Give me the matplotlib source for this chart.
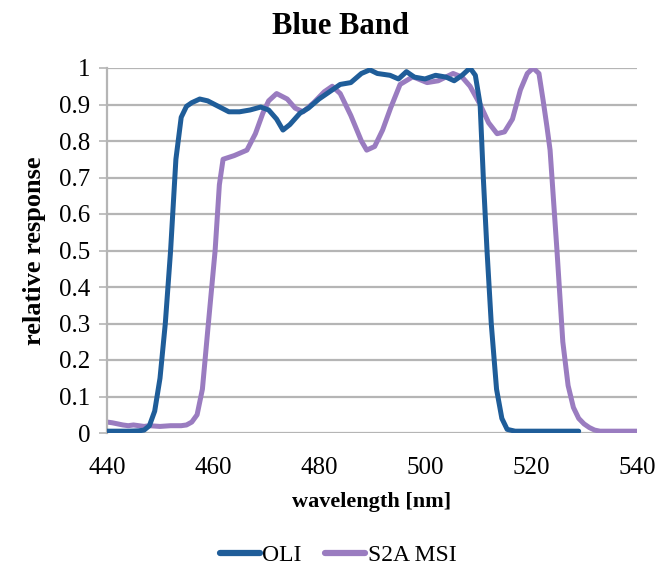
import matplotlib
matplotlib.use('Agg')
import matplotlib.pyplot as plt

# OLI blue band relative spectral response
oli_wl = [440, 442, 444, 446, 447, 448, 449, 450, 451, 452, 453, 454, 455, 456, 457.5,
          459, 461, 463, 465, 467, 469, 470.5, 472, 473.2, 474.5, 476.4, 478, 480, 482,
          484, 486, 488, 489.6, 491, 493.4, 495, 496.5, 498, 500, 502, 504, 505.5, 507,
          508.5, 509.5, 510.4, 511, 511.7, 512.5, 513.5, 514.5, 515.5, 517, 520, 524, 529]
oli_resp = [0.005, 0.005, 0.005, 0.006, 0.008, 0.02, 0.06, 0.15, 0.3, 0.5, 0.75, 0.865, 0.895, 0.905, 0.915,
            0.91, 0.895, 0.88, 0.88, 0.885, 0.893, 0.885, 0.86, 0.83, 0.845, 0.876, 0.89, 0.915, 0.935,
            0.955, 0.96, 0.985, 0.995, 0.985, 0.98, 0.97, 0.99, 0.975, 0.97, 0.98, 0.975, 0.965, 0.98,
            1.0, 0.98, 0.9, 0.7, 0.5, 0.3, 0.12, 0.04, 0.01, 0.005, 0.005, 0.005, 0.005]

# Sentinel-2A MSI band 2
msi_wl = [440, 441, 442, 443, 444, 445, 446, 447, 448, 450, 452, 454, 455, 456, 457, 458,
          459, 460.4, 461.2, 461.9, 464, 466.4, 468, 469.4, 470.5, 472, 474, 475.5, 477, 479,
          481, 482.5, 484, 486, 488, 489, 490.5, 492, 493.5, 495.3, 497.7, 500.4, 502.5,
          505.3, 507, 508.5, 510.4, 512, 513.6, 515, 516.5, 518, 519.3, 520.4, 521.5, 522.3,
          523, 523.6, 524.9, 526, 527, 528, 529, 530, 531, 532, 533, 536, 540]
msi_resp = [0.03, 0.028, 0.025, 0.022, 0.02, 0.022, 0.02, 0.018, 0.02, 0.018, 0.02, 0.02, 0.022, 0.03, 0.05, 0.12,
            0.28, 0.5, 0.68, 0.75, 0.76, 0.775, 0.82, 0.876, 0.91, 0.93, 0.915, 0.89, 0.88, 0.905,
            0.935, 0.95, 0.93, 0.87, 0.8, 0.775, 0.785, 0.83, 0.89, 0.955, 0.976, 0.96, 0.965,
            0.985, 0.975, 0.95, 0.9, 0.85, 0.82, 0.825, 0.86, 0.94, 0.985, 1.0, 0.985, 0.91,
            0.84, 0.775, 0.5, 0.25, 0.13, 0.07, 0.04, 0.025, 0.015, 0.008, 0.005, 0.005, 0.005]

x_ticks = [440, 460, 480, 500, 520, 540]
y_ticks = [0, 0.1, 0.2, 0.3, 0.4, 0.5, 0.6, 0.7, 0.8, 0.9, 1]
y_labels = ['0', '0.1', '0.2', '0.3', '0.4', '0.5', '0.6', '0.7', '0.8', '0.9', '1']

oli_color = '#1f5d99'
msi_color = '#9a7cc0'
grid_color = '#b5b5b5'
serif = ['Liberation Serif', 'DejaVu Serif']

fig = plt.figure(figsize=(6.66, 5.76), dpi=100)
ax = fig.add_axes([107 / 666, 1 - 433 / 576, 530 / 666, 365 / 576])

ax.plot(oli_wl, oli_resp, color=oli_color, lw=3.6, label='OLI', solid_capstyle='round', zorder=3)
ax.plot(msi_wl, msi_resp, color=msi_color, lw=3.6, label='S2A MSI', solid_capstyle='round', zorder=2)

ax.set_xlim(440, 540)
ax.set_ylim(0, 1)
ax.set_xticks(x_ticks)
ax.set_xticklabels([str(t) for t in x_ticks], family=serif, fontsize=18)
ax.set_yticks(y_ticks)
ax.set_yticklabels(y_labels, family=serif, fontsize=18)
ax.yaxis.grid(True, color=grid_color, lw=1.6)
ax.set_axisbelow(True)
for s in ['top', 'right', 'bottom']:
    ax.spines[s].set_visible(False)
ax.spines['left'].set_color(grid_color)
ax.spines['left'].set_linewidth(1.6)
ax.tick_params(axis='x', length=0, pad=17)
ax.tick_params(axis='y', length=6, width=1.2, color=grid_color, pad=6)
ax.margins(0)

ax.set_xlabel('wavelength [nm]', family=serif, fontsize=16, fontweight='bold')
ax.xaxis.set_label_coords(0.5, -0.162)
ax.set_ylabel('relative response', family=serif, fontsize=19, fontweight='bold')
ax.yaxis.set_label_coords(-0.115, 0.5)

fig.text(340 / 666, 1 - 26 / 576, 'Blue Band', ha='center', va='center',
         family=serif, fontsize=22, fontweight='bold')

leg = fig.legend(loc='center', bbox_to_anchor=(338 / 666, 1 - 555 / 576), ncol=2, frameon=False,
                 prop={'family': serif, 'size': 17}, handlelength=1.7, handletextpad=0.1,
                 columnspacing=1.0)
for h in leg.get_lines():
    h.set_linewidth(4.5)

fig.savefig('out.png', dpi=100)
